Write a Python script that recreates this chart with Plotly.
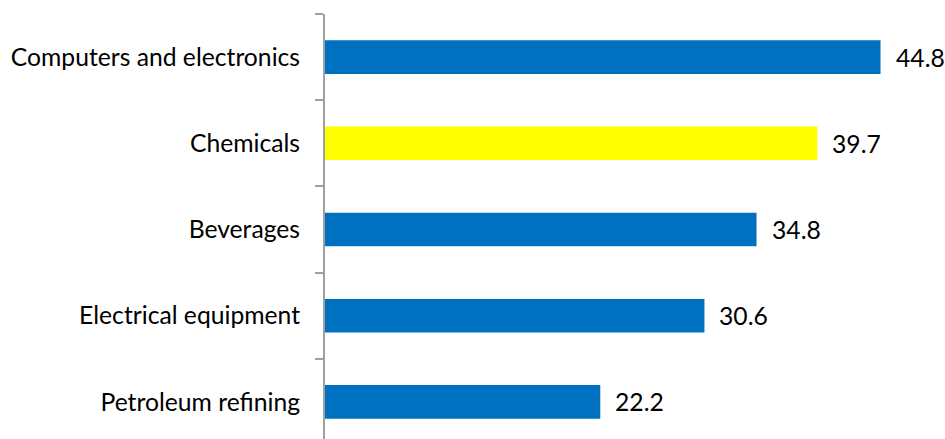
import plotly.graph_objects as go

categories = ["Computers and electronics", "Chemicals", "Beverages", "Electrical equipment", "Petroleum refining"]
values = [44.8, 39.7, 34.8, 30.6, 22.2]
colors = ["#0070C0", "#FFFF00", "#0070C0", "#0070C0", "#0070C0"]
value_labels = [f"{v:.1f}" for v in values]

FONT = "Lato"
FSIZE = 24.7

fig = go.Figure()
fig.add_trace(go.Bar(
    x=values, y=categories, orientation="h",
    marker=dict(color=colors, line=dict(width=0)),
    width=0.39,
    hoverinfo="skip",
))

for c, v, t in zip(categories, values, value_labels):
    fig.add_annotation(x=v, y=c, text=t, xanchor="left", yanchor="middle",
                       xshift=13, showarrow=False,
                       font=dict(family=FONT, size=FSIZE, color="#000000"))

fig.update_layout(
    width=945, height=439,
    margin=dict(l=325, r=0, t=14, b=0),
    paper_bgcolor="white", plot_bgcolor="white",
    showlegend=False,
    font=dict(family=FONT, size=FSIZE, color="#000000"),
    xaxis=dict(range=[0, 50], visible=False, showgrid=False, zeroline=False),
    yaxis=dict(
        type="category",
        categoryorder="array", categoryarray=categories,
        range=[4.43, -0.5],
        showline=True, linecolor="#A0A0A0", linewidth=2,
        ticks="outside", ticklen=8, tickcolor="#A0A0A0", tickwidth=2,
        tickson="boundaries",
        showgrid=False, zeroline=False,
        automargin=False,
        ticklabelstandoff=18,
        tickfont=dict(family=FONT, size=FSIZE, color="#000000"),
    ),
)

fig.write_html("out.html", config={"displayModeBar": False},
               post_script="document.body.style.margin='0';")
